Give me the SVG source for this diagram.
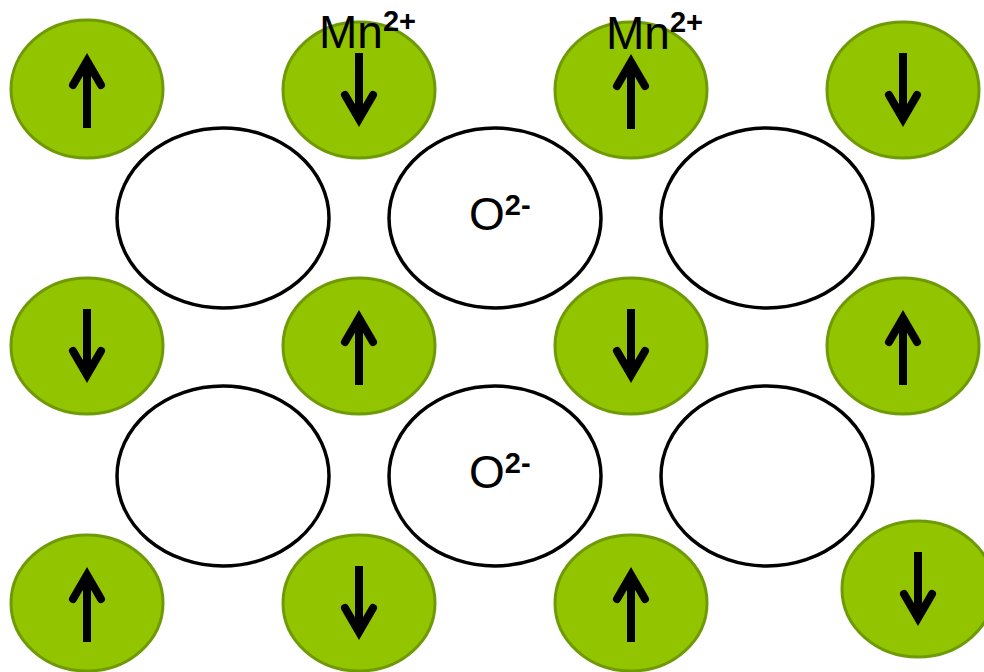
<svg xmlns="http://www.w3.org/2000/svg" xmlns:xlink="http://www.w3.org/1999/xlink" width="984" height="672" viewBox="0 0 984 672">
<style>
.mn{fill:#93c400;stroke:#6e9a05;stroke-width:3}
.ox{fill:#ffffff;stroke:#000000;stroke-width:3.5}
.arr{fill:none;stroke:#000000;stroke-width:8}
.lbl{font-family:"Liberation Sans",Arial,sans-serif;fill:#000000}
.sup{font-weight:bold}
</style>
<defs>
<g id="up">
<path class="arr" d="M0,39 V-28" stroke-linecap="butt"/>
<path class="arr" d="M-14,-4 L0,-28 L14,-4" stroke-linecap="round" stroke-linejoin="miter" stroke-miterlimit="10"/>
</g>
<g id="down">
<path class="arr" d="M0,-37 V29" stroke-linecap="butt"/>
<path class="arr" d="M-14,5 L0,29 L14,5" stroke-linecap="round" stroke-linejoin="miter" stroke-miterlimit="10"/>
</g>
</defs>
<g id="oxygens">
<g id="o11"><ellipse class="ox" cx="223" cy="218" rx="106" ry="90"/></g>
<g id="o12"><ellipse class="ox" cx="495" cy="218" rx="106" ry="90"/>
<text class="lbl" x="469" y="230" font-size="46">O<tspan class="sup" font-size="29" dy="-15">2-</tspan></text></g>
<g id="o13"><ellipse class="ox" cx="767" cy="218" rx="106" ry="90"/></g>
<g id="o21"><ellipse class="ox" cx="223" cy="476" rx="106" ry="90"/></g>
<g id="o22"><ellipse class="ox" cx="495" cy="476" rx="106" ry="90"/>
<text class="lbl" x="469" y="488" font-size="46">O<tspan class="sup" font-size="29" dy="-15">2-</tspan></text></g>
<g id="o23"><ellipse class="ox" cx="767" cy="476" rx="106" ry="90"/></g>
</g>
<g id="manganese">
<g id="m11"><ellipse class="mn" cx="87" cy="89" rx="76" ry="69"/><use xlink:href="#up" x="87" y="89"/></g>
<g id="m12"><ellipse class="mn" cx="359" cy="90" rx="76" ry="68"/><use xlink:href="#down" x="359" y="90"/></g>
<g id="m13"><ellipse class="mn" cx="631" cy="90" rx="76" ry="68"/><use xlink:href="#up" x="631" y="90"/></g>
<g id="m14"><ellipse class="mn" cx="903" cy="90" rx="76" ry="68"/><use xlink:href="#down" x="903" y="90"/></g>
<g id="m21"><ellipse class="mn" cx="87" cy="346" rx="76" ry="68"/><use xlink:href="#down" x="87" y="346"/></g>
<g id="m22"><ellipse class="mn" cx="359" cy="346" rx="76" ry="68"/><use xlink:href="#up" x="359" y="346"/></g>
<g id="m23"><ellipse class="mn" cx="631" cy="346" rx="76" ry="68"/><use xlink:href="#down" x="631" y="346"/></g>
<g id="m24"><ellipse class="mn" cx="903" cy="346" rx="76" ry="68"/><use xlink:href="#up" x="903" y="346"/></g>
<g id="m31"><ellipse class="mn" cx="87" cy="603" rx="76" ry="68"/><use xlink:href="#up" x="87" y="603"/></g>
<g id="m32"><ellipse class="mn" cx="359" cy="603" rx="76" ry="68"/><use xlink:href="#down" x="359" y="603"/></g>
<g id="m33"><ellipse class="mn" cx="631" cy="603" rx="76" ry="68"/><use xlink:href="#up" x="631" y="603"/></g>
<g id="m34"><ellipse class="mn" cx="918" cy="589" rx="76" ry="68"/><use xlink:href="#down" x="918" y="589"/></g>
</g>
<g id="labels">
<text class="lbl" x="319" y="48" font-size="46">Mn<tspan class="sup" font-size="29" dy="-17">2+</tspan></text>
<text class="lbl" x="606" y="49" font-size="46">Mn<tspan class="sup" font-size="29" dy="-17">2+</tspan></text>
</g>
<g id="connectors"/>
</svg>
